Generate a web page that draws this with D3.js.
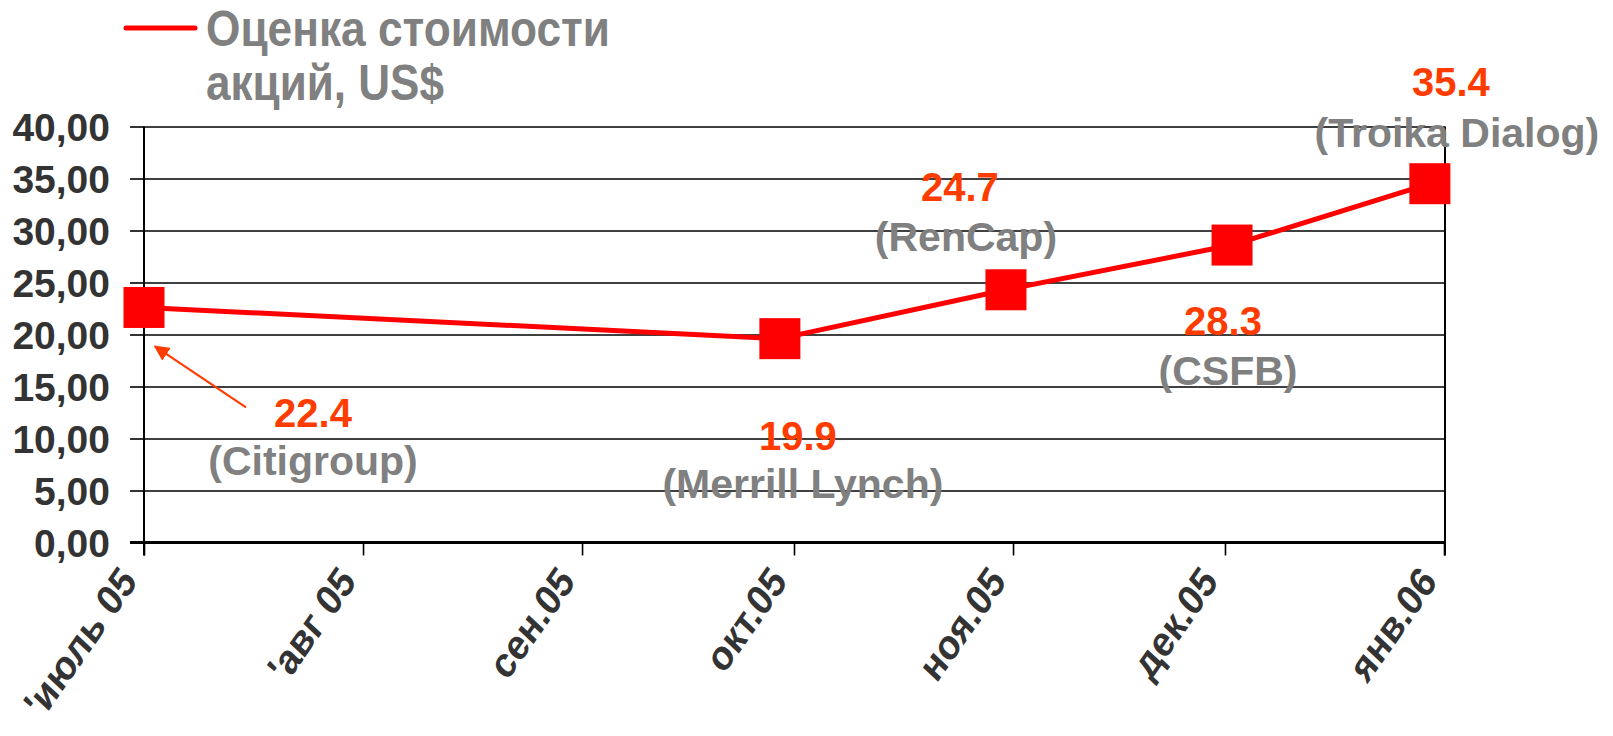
<!DOCTYPE html>
<html>
<head>
<meta charset="utf-8">
<script src="https://cdn.jsdelivr.net/npm/d3@7"></script>
<style>
  body { margin: 0; background: #fff; }
  svg text { font-family: "Liberation Sans", Arial, sans-serif; font-weight: bold; }
</style>
</head>
<body>
<div class="chartContainer"></div>
<script>
// data
var monthTicks = [
    new Date(2005, 6, 1), new Date(2005, 7, 1), new Date(2005, 8, 1), new Date(2005, 9, 1),
    new Date(2005, 10, 1), new Date(2005, 11, 1), new Date(2006, 0, 1)
];
var monthLabels = ["'июль 05", "'авг 05", "сен.05", "окт.05", "ноя.05", "дек.05", "янв.06"];
var pointDates = [
    new Date(2005, 6, 1), new Date(2005, 8, 29), new Date(2005, 9, 31),
    new Date(2005, 11, 2), new Date(2005, 11, 30)
];
var priceValues = [22.6, 19.6, 24.3, 28.6, 34.5];
var noteValues = ["22.4", "19.9", "24.7", "28.3", "35.4"];
var noteBrokers = ["(Citigroup)", "(Merrill Lynch)", "(RenCap)", "(CSFB)", "(Troika Dialog)"];
var yTicks = [0, 5, 10, 15, 20, 25, 30, 35, 40];
var legendLines = ["Оценка стоимости", "акций, US$"];

function Graph() {
    const width = 1613;
    const height = 736;
    const left = 144, right = 1444, top = 126.5, bottom = 542.5;
    const red = '#ff0000';
    const noteRed = '#ff3c00';
    const grey = '#808080';

    const xScale = d3.scaleTime()
                     .domain([monthTicks[0], monthTicks[monthTicks.length - 1]])
                     .range([left, right]);
    const yScale = d3.scaleLinear()
                     .domain([0, 40])
                     .range([bottom, top]);

    const svg = d3.select('.chartContainer')
                  .append('svg')
                    .attr('width', width)
                    .attr('height', height)
                    .style('background', '#fff');

    // horizontal grid
    svg.append('g')
       .attr('transform', `translate(${left}, 0)`)
       .call(d3.axisLeft(yScale).tickValues(yTicks).tickSize(-(right - left + 1)).tickFormat(''))
       .call(g => g.select('.domain').remove())
       .selectAll('line').attr('stroke', '#000').attr('stroke-width', 1.6);

    // y axis with labels
    const yAxis = svg.append('g')
       .attr('transform', `translate(${left}, 0)`)
       .call(d3.axisLeft(yScale).tickValues(yTicks).tickSize(14).tickPadding(20)
               .tickFormat(d => d3.format('.2f')(d).replace('.', ',')));
    yAxis.select('.domain').remove();
    yAxis.selectAll('line').attr('stroke', '#000').attr('stroke-width', 1.6);
    yAxis.selectAll('text')
         .attr('fill', '#333')
         .style('font-size', '39px')
         .attr('dy', '0.36em');

    // frame: left and right verticals
    svg.append('line').attr('x1', left).attr('x2', left).attr('y1', top).attr('y2', bottom + 13)
       .attr('stroke', '#000').attr('stroke-width', 2);
    svg.append('line').attr('x1', right + 1).attr('x2', right + 1).attr('y1', top).attr('y2', bottom + 13)
       .attr('stroke', '#000').attr('stroke-width', 2);

    // x axis, labels slanted like the original
    const xAxis = svg.append('g')
       .attr('transform', `translate(0, ${bottom})`)
       .call(d3.axisBottom(xScale).tickValues(monthTicks).tickSize(13)
               .tickFormat((d, i) => monthLabels[i]));
    xAxis.select('.domain').attr('stroke', '#000').attr('stroke-width', 3)
         .attr('d', `M${left - 14},0H${right + 1}`);
    xAxis.selectAll('line').attr('stroke', '#000').attr('stroke-width', 1.6);
    xAxis.selectAll('text')
         .attr('fill', '#333')
         .style('font-size', '39px')
         .attr('text-anchor', 'end')
         .attr('x', 0).attr('y', 0).attr('dy', 0)
         .attr('transform', 'translate(-6, 40) rotate(-55) skewX(-8)');

    // the price line
    const pts = pointDates.map((d, i) => ({date: d, value: priceValues[i]}));
    const line = d3.line().x(d => xScale(d.date)).y(d => yScale(d.value));
    svg.append('path')
       .datum(pts)
       .attr('d', line)
       .attr('fill', 'none')
       .attr('stroke', red)
       .attr('stroke-width', 5)
       .attr('stroke-linejoin', 'round');

    const marker = 41;
    svg.selectAll('rect.marker')
       .data(pts)
       .enter()
         .append('rect')
           .attr('class', 'marker')
           .attr('x', d => xScale(d.date) - marker / 2)
           .attr('y', d => yScale(d.value) - marker / 2)
           .attr('width', marker)
           .attr('height', marker)
           .attr('fill', red);

    // annotations, offset from their point
    const noteOffset = [[169, 120], [18, 111], [-46, -89], [-9, 90], [21, -88]];
    const brokerOffset = [[169, 168], [23, 159], [-40, -39], [-4, 140], [27, -37]];

    svg.selectAll('text.note')
       .data(pts)
       .enter()
         .append('text')
           .attr('class', 'note')
           .attr('x', (d, i) => xScale(d.date) + noteOffset[i][0])
           .attr('y', (d, i) => yScale(d.value) + noteOffset[i][1])
           .attr('text-anchor', 'middle')
           .attr('fill', noteRed)
           .style('font-size', '40px')
           .text((d, i) => noteValues[i]);

    svg.selectAll('text.broker')
       .data(pts)
       .enter()
         .append('text')
           .attr('class', 'broker')
           .attr('x', (d, i) => xScale(d.date) + brokerOffset[i][0])
           .attr('y', (d, i) => yScale(d.value) + brokerOffset[i][1])
           .attr('text-anchor', 'middle')
           .attr('fill', grey)
           .style('font-size', '41px')
           .text((d, i) => noteBrokers[i]);

    // arrow from the first note to its point
    svg.append('defs').append('marker')
       .attr('id', 'arrowHead')
       .attr('viewBox', '0 0 10 10')
       .attr('refX', 9).attr('refY', 5)
       .attr('markerWidth', 7).attr('markerHeight', 7)
       .attr('markerUnits', 'strokeWidth')
       .attr('orient', 'auto')
       .append('path').attr('d', 'M0,0L10,5L0,10Z').attr('fill', noteRed);
    const p0 = pts[0];
    svg.append('line')
       .attr('x1', xScale(p0.date) + 102).attr('y1', yScale(p0.value) + 100)
       .attr('x2', xScale(p0.date) + 11).attr('y2', yScale(p0.value) + 39)
       .attr('stroke', noteRed)
       .attr('stroke-width', 2.2)
       .attr('marker-end', 'url(#arrowHead)');

    // legend
    svg.append('line')
       .attr('x1', 126).attr('x2', 195).attr('y1', 28).attr('y2', 28)
       .attr('stroke', red).attr('stroke-width', 5).attr('stroke-linecap', 'round');
    svg.selectAll('text.legend')
       .data(legendLines)
       .enter()
         .append('text')
           .attr('class', 'legend')
           .attr('x', 206)
           .attr('y', (d, i) => 46 + i * 54)
           .attr('fill', grey)
           .style('font-size', '50px')
           .attr('textLength', (d, i) => i === 0 ? 404 : 238)
           .attr('lengthAdjust', 'spacingAndGlyphs')
           .text(d => d);
}

Graph();
</script>
</body>
</html>
